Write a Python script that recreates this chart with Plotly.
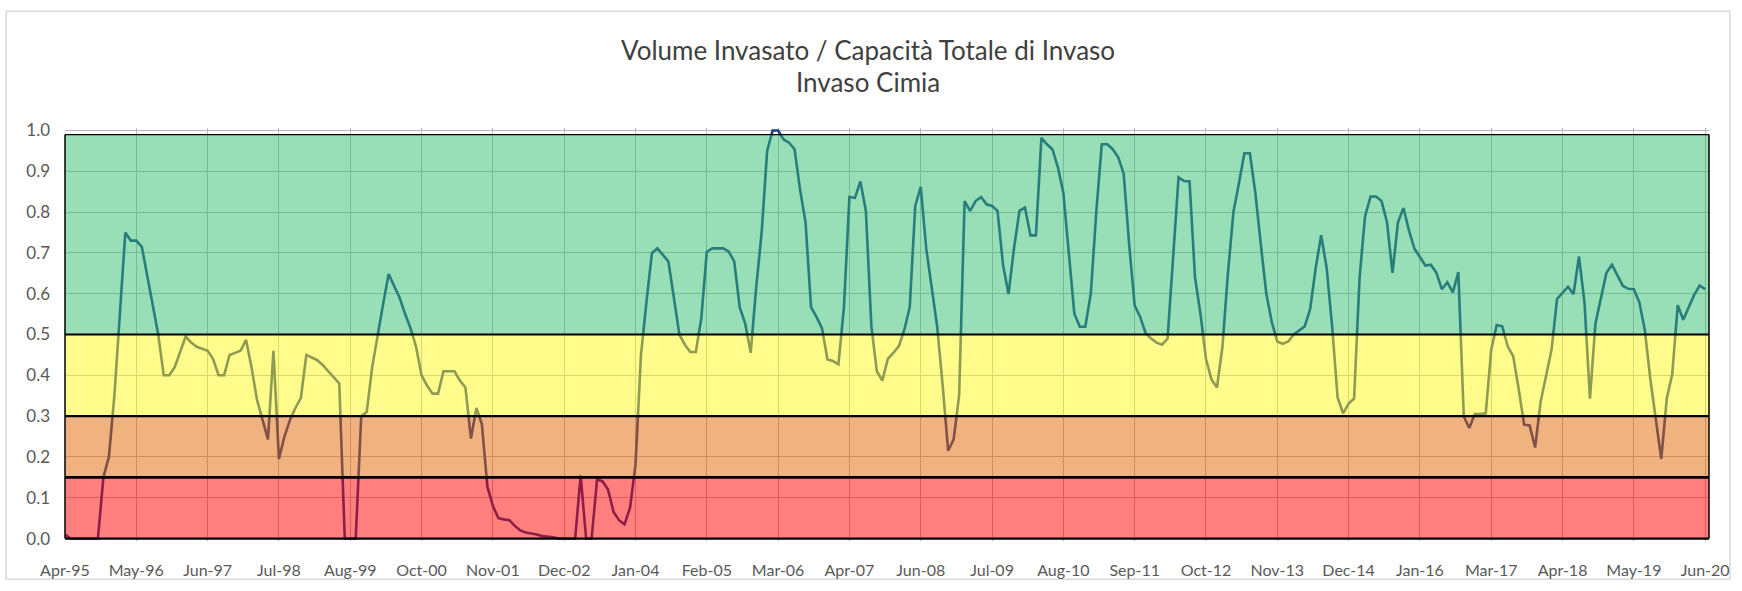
import plotly.graph_objects as go

# ---------------- data ----------------
title_line1 = "Volume Invasato / Capacità Totale di Invaso"
title_line2 = "Invaso Cimia"

tick_labels = ["Apr-95", "May-96", "Jun-97", "Jul-98", "Aug-99", "Oct-00", "Nov-01", "Dec-02",
               "Jan-04", "Feb-05", "Mar-06", "Apr-07", "Jun-08", "Jul-09", "Aug-10", "Sep-11",
               "Oct-12", "Nov-13", "Dec-14", "Jan-16", "Mar-17", "Apr-18", "May-19", "Jun-20"]
label_every = 13  # one label every 13 observations (category axis)

ratio = [
    0.01, 0, 0, 0, 0, 0, 0, 0.15, 0.20, 0.35,
    0.55, 0.75, 0.73, 0.73, 0.715, 0.64, 0.57, 0.50, 0.40, 0.40,
    0.42, 0.46, 0.495, 0.48, 0.47, 0.465, 0.46, 0.44, 0.40, 0.40,
    0.45, 0.455, 0.46, 0.487, 0.42, 0.34, 0.29, 0.243, 0.46, 0.195,
    0.25, 0.29, 0.32, 0.345, 0.45, 0.443, 0.437, 0.425, 0.41, 0.395,
    0.38, 0, 0, 0, 0.30, 0.31, 0.42, 0.50, 0.575, 0.648,
    0.62, 0.59, 0.55, 0.515, 0.47, 0.40, 0.375, 0.355, 0.355, 0.41,
    0.41, 0.41, 0.387, 0.37, 0.245, 0.32, 0.28, 0.127, 0.08, 0.05,
    0.047, 0.045, 0.031, 0.02, 0.015, 0.013, 0.01, 0.006, 0.005, 0.003,
    0, 0, 0, 0, 0.155, 0, 0, 0.145, 0.14, 0.12,
    0.065, 0.045, 0.035, 0.075, 0.18, 0.45, 0.58, 0.70, 0.711, 0.695,
    0.679, 0.59, 0.50, 0.475, 0.457, 0.457, 0.54, 0.703, 0.711, 0.711,
    0.711, 0.703, 0.679, 0.567, 0.527, 0.455, 0.615, 0.75, 0.95, 1.0,
    1.0, 0.978, 0.97, 0.954, 0.855, 0.775, 0.567, 0.543, 0.515, 0.439,
    0.435, 0.427, 0.567, 0.837, 0.835, 0.875, 0.803, 0.52, 0.41, 0.387,
    0.44, 0.455, 0.471, 0.511, 0.567, 0.815, 0.862, 0.711, 0.615, 0.519,
    0.375, 0.215, 0.243, 0.351, 0.827, 0.803, 0.827, 0.837, 0.819, 0.815,
    0.803, 0.671, 0.599, 0.711, 0.803, 0.811, 0.743, 0.743, 0.982, 0.966,
    0.954, 0.91, 0.847, 0.695, 0.551, 0.519, 0.519, 0.60, 0.80, 0.966,
    0.966, 0.954, 0.934, 0.894, 0.72, 0.571, 0.543, 0.503, 0.49, 0.48,
    0.475, 0.49, 0.69, 0.885, 0.876, 0.875, 0.64, 0.55, 0.44, 0.39,
    0.37, 0.47, 0.65, 0.80, 0.87, 0.944, 0.944, 0.847, 0.72, 0.60,
    0.53, 0.483, 0.477, 0.483, 0.50, 0.511, 0.52, 0.563, 0.663, 0.743,
    0.663, 0.519, 0.345, 0.307, 0.331, 0.343, 0.639, 0.79, 0.838, 0.838,
    0.827, 0.775, 0.651, 0.775, 0.81, 0.755, 0.71, 0.69, 0.669, 0.671,
    0.651, 0.611, 0.628, 0.603, 0.653, 0.299, 0.271, 0.305, 0.305, 0.307,
    0.463, 0.523, 0.52, 0.471, 0.447, 0.367, 0.279, 0.277, 0.223, 0.335,
    0.395, 0.463, 0.587, 0.603, 0.617, 0.599, 0.691, 0.579, 0.343, 0.527,
    0.591, 0.651, 0.671, 0.643, 0.619, 0.612, 0.611, 0.579, 0.511, 0.391,
    0.295, 0.195, 0.343, 0.403, 0.572, 0.536, 0.567, 0.597, 0.62, 0.611,
]

band_edges = [0.0, 0.15, 0.30, 0.50, 0.99]
band_fill = ["rgba(255,0,0,0.5)", "rgba(225,101,0,0.5)",
             "rgba(255,249,25,0.5)", "rgba(49,189,109,0.5)"]

# ---------------- figure ----------------
W, H = 1742, 591
ML, MR, MT, MB = 65, 27, 128, 42

x_idx = list(range(len(ratio)))
tickvals = [i * label_every for i in range(len(tick_labels))]

fig = go.Figure()
fig.add_trace(go.Scatter(
    x=x_idx, y=ratio, mode="lines",
    line=dict(color="#1e3c8c", width=2.6),
    hoverinfo="y", showlegend=False,
))

shapes = []
# coloured semi-transparent bands laid over the line
for i in range(len(band_fill)):
    shapes.append(dict(type="rect", xref="paper", yref="y", x0=0, x1=1,
                       y0=band_edges[i], y1=band_edges[i + 1],
                       fillcolor=band_fill[i], line=dict(width=0), layer="above"))
# black band borders
widths = [2.2, 2.6, 2.2, 2.2, 1.2]
for e, w in zip(band_edges, widths):
    shapes.append(dict(type="line", xref="paper", yref="y", x0=0, x1=1, y0=e, y1=e,
                       line=dict(color="black", width=w), layer="above"))
for xp in (0, 1):
    shapes.append(dict(type="line", xref="paper", yref="y", x0=xp, x1=xp,
                       y0=band_edges[0], y1=band_edges[-1],
                       line=dict(color="black", width=1.5), layer="above"))

# outer chart border
pw = W - ML - MR
ph = H - MT - MB
shapes.append(dict(type="rect", xref="paper", yref="paper",
                   x0=(6 - ML) / pw, x1=(1736 - ML) / pw,
                   y0=-(588 - (H - MB)) / ph, y1=((H - MB) - 9) / ph,
                   line=dict(color="#d9d9d9", width=1.5), fillcolor="rgba(0,0,0,0)", layer="below"))

title_font = dict(family="Lato, 'Open Sans', sans-serif", size=26, color="#404040")
annotations = [
    dict(text=title_line1, xref="paper", yref="paper", x=(871 - ML) / pw,
         y=((H - MB) - 48) / ph, showarrow=False, font=title_font,
         xanchor="center", yanchor="middle"),
    dict(text=title_line2, xref="paper", yref="paper", x=(871 - ML) / pw,
         y=((H - MB) - 81) / ph, showarrow=False, font=title_font,
         xanchor="center", yanchor="middle"),
]

x_tick_font = dict(family="Lato, 'Open Sans', sans-serif", size=16, color="#595959")
y_tick_font = dict(family="Lato, 'Open Sans', sans-serif", size=17, color="#595959")

fig.update_layout(
    width=W, height=H,
    margin=dict(l=ML, r=MR, t=MT, b=MB, pad=0),
    plot_bgcolor="white", paper_bgcolor="white",
    shapes=shapes, annotations=annotations, showlegend=False,
    xaxis=dict(range=[0, 299.7], tickmode="array", tickvals=tickvals, ticktext=tick_labels,
               showgrid=True, gridcolor="#b8b8b8", gridwidth=1, zeroline=False,
               showline=False, ticks="", tickfont=x_tick_font, ticklabelstandoff=18,
               fixedrange=True),
    yaxis=dict(range=[-0.006, 1.006], tick0=0, dtick=0.1, tickformat=".1f",
               showgrid=True, gridcolor="#b8b8b8", gridwidth=1, zeroline=False,
               showline=False, ticks="", tickfont=y_tick_font, ticklabelstandoff=14,
               fixedrange=True),
)

fig.write_html("out.html",
               config={"displayModeBar": False},
               post_script="document.body.style.margin='0px';document.body.style.padding='0px';")
